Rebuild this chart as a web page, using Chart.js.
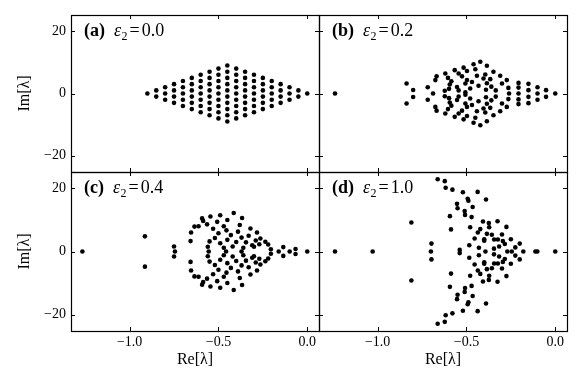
<!DOCTYPE html>
<html>
<head>
<meta charset="utf-8">
<script src="https://cdn.jsdelivr.net/npm/chart.js@4.4.1/dist/chart.umd.min.js"></script>
<style>
  html, body { margin: 0; padding: 0; background: #fff; }
  #wrap { position: relative; width: 581px; height: 388px; }
  #wrap canvas { position: absolute; left: 0; top: 0; }
</style>
</head>
<body>
<div id="wrap">
  <canvas id="panelA" width="581" height="388"></canvas>
  <canvas id="panelB" width="581" height="388"></canvas>
  <canvas id="panelC" width="581" height="388"></canvas>
  <canvas id="panelD" width="581" height="388"></canvas>
</div>
<script>
// ticks shared by the four panels
const reTicks = [-1.0, -0.5, 0.0];
const imTicks = [-20, 0, 20];
const panelTags = ['(a)', '(b)', '(c)', '(d)'];
const epsValues = ['0.0', '0.2', '0.4', '1.0'];

// (a) eps2 = 0 : lattice, one column of Im values per Re value
const latticeRe = [-0.90, -0.85, -0.80, -0.75, -0.70, -0.65, -0.60, -0.55, -0.50, -0.45,
                   -0.40, -0.35, -0.30, -0.25, -0.20, -0.15, -0.10, -0.05, 0.00];
const latticeIm = [
    [0],
    [-1, 1],
    [-2, 0, 2],
    [-3, -1, 1, 3],
    [-4, -2, 0, 2, 4],
    [-5, -3, -1, 1, 3, 5],
    [-6, -4, -2, 0, 2, 4, 6],
    [-7, -5, -3, -1, 1, 3, 5, 7],
    [-8, -6, -4, -2, 0, 2, 4, 6, 8],
    [-9, -7, -5, -3, -1, 1, 3, 5, 7, 9],
    [-8, -6, -4, -2, 0, 2, 4, 6, 8],
    [-7, -5, -3, -1, 1, 3, 5, 7],
    [-6, -4, -2, 0, 2, 4, 6],
    [-5, -3, -1, 1, 3, 5],
    [-4, -2, 0, 2, 4],
    [-3, -1, 1, 3],
    [-2, 0, 2],
    [-1, 1],
    [0]
];

// (b) eps2 = 0.2  [Re, Im]
const eigB = [
    [-1.24, 0], [-0.688, 0], [-0.26, 0], [-0.207, 0], [-0.10, 0], [0, 0],
    [-0.837, 3.2], [-0.837, -3.2], [-0.80, 1.1], [-0.80, -1.1], [-0.718, 2.0], [-0.718, -2.0],
    [-0.675, 4.3], [-0.675, -4.3], [-0.668, 5.5], [-0.668, -5.5], [-0.619, 6.4], [-0.619, -6.4],
    [-0.604, 5.0], [-0.604, -5.0], [-0.594, 2.9], [-0.594, -2.9], [-0.598, 1.5], [-0.598, -1.5],
    [-0.622, 0.9], [-0.622, -0.9], [-0.566, 7.5], [-0.566, -7.5], [-0.544, 6.4], [-0.544, -6.4],
    [-0.553, 2.1], [-0.553, -2.1], [-0.544, 1.0], [-0.544, -1.0], [-0.516, 8.3], [-0.516, -8.3],
    [-0.497, 7.2], [-0.497, -7.2], [-0.497, 4.3], [-0.497, -4.3], [-0.506, 3.2], [-0.506, -3.2],
    [-0.469, 3.7], [-0.469, -3.7], [-0.479, 1.6], [-0.479, -1.6], [-0.506, 0.4], [-0.506, -0.4],
    [-0.46, 9.4], [-0.46, -9.4], [-0.45, 7.8], [-0.45, -7.8], [-0.422, 10.2], [-0.422, -10.2],
    [-0.385, 8.9], [-0.385, -8.9], [-0.441, 5.7], [-0.441, -5.7], [-0.404, 4.8], [-0.404, -4.8],
    [-0.394, 6.1], [-0.394, -6.1], [-0.432, 2.5], [-0.432, -2.5], [-0.348, 7.0], [-0.348, -7.0],
    [-0.366, 4.6], [-0.366, -4.6], [-0.31, 5.7], [-0.31, -5.7], [-0.36, 2.2], [-0.36, -2.2],
    [-0.30, 3.2], [-0.30, -3.2], [-0.273, 4.3], [-0.273, -4.3], [-0.264, 1.8], [-0.264, -1.8],
    [-0.39, 1.2], [-0.39, -1.2], [-0.335, 1.0], [-0.335, -1.0], [-0.525, 5.5], [-0.525, -5.5],
    [-0.385, 3.3], [-0.385, -3.3], [-0.585, 3.9], [-0.585, -3.9], [-0.207, 3.4], [-0.207, -3.4],
    [-0.207, 1.9], [-0.207, -1.9], [-0.151, 3.1], [-0.151, -3.1], [-0.151, 1.07], [-0.151, -1.07],
    [-0.10, 2.0], [-0.10, -2.0], [-0.052, 1.07], [-0.052, -1.07]
];

// (c) eps2 = 0.4
const eigC = [
    [-1.266, 0], [-0.745, 0], [-0.555, 0], [-0.457, 0], [-0.37, 0], [-0.161, 0], [-0.099, 0], [0, 0],
    [-0.914, 4.8], [-0.914, -4.8], [-0.75, 1.6], [-0.75, -1.6],
    [-0.657, 3.3], [-0.657, -3.3], [-0.654, 6.0], [-0.654, -6.0], [-0.635, 7.9], [-0.635, -7.9],
    [-0.612, 8.0], [-0.612, -8.0], [-0.592, 10.5], [-0.592, -10.5], [-0.586, 9.7], [-0.586, -9.7],
    [-0.564, 8.6], [-0.564, -8.6], [-0.545, 11.1], [-0.545, -11.1], [-0.507, 9.4], [-0.507, -9.4],
    [-0.49, 11.5], [-0.49, -11.5], [-0.45, 10.0], [-0.45, -10.0], [-0.414, 12.2], [-0.414, -12.2],
    [-0.367, 10.6], [-0.367, -10.6], [-0.32, 7.3], [-0.32, -7.3], [-0.283, 6.0], [-0.283, -6.0],
    [-0.264, 4.1], [-0.264, -4.1], [-0.236, 3.1], [-0.236, -3.1], [-0.22, 2.2], [-0.22, -2.2],
    [-0.205, 0.7], [-0.205, -0.7], [-0.135, 1.4], [-0.135, -1.4], [-0.066, 0.8], [-0.066, -0.8],
    [-0.56, 1.5], [-0.56, -1.5], [-0.55, 3.2], [-0.55, -3.2], [-0.52, 4.3], [-0.52, -4.3],
    [-0.50, 5.8], [-0.50, -5.8], [-0.49, 2.6], [-0.49, -2.6], [-0.47, 1.2], [-0.47, -1.2],
    [-0.455, 6.7], [-0.455, -6.7], [-0.45, 3.7], [-0.45, -3.7], [-0.43, 5.2], [-0.43, -5.2],
    [-0.42, 1.6], [-0.42, -1.6], [-0.40, 3.0], [-0.40, -3.0], [-0.39, 6.3], [-0.39, -6.3],
    [-0.37, 4.4], [-0.37, -4.4], [-0.36, 1.2], [-0.36, -1.2], [-0.345, 2.9], [-0.345, -2.9],
    [-0.33, 5.0], [-0.33, -5.0], [-0.31, 2.0], [-0.31, -2.0], [-0.29, 3.5], [-0.29, -3.5],
    [-0.47, 8.0], [-0.47, -8.0], [-0.38, 8.4], [-0.38, -8.4], [-0.27, 2.3], [-0.27, -2.3],
    [-0.53, 7.2], [-0.53, -7.2], [-0.30, 1.5], [-0.30, -1.5]
];

// (d) eps2 = 1.0
const eigD = [
    [-1.24, 0], [-1.028, 0], [-0.70, 0], [-0.393, 0], [-0.27, 0], [-0.245, 0], [-0.18, 0],
    [-0.112, 0], [-0.101, 0], [0, 0],
    [-0.81, 9.2], [-0.81, -9.2], [-0.697, 2.5], [-0.697, -2.5],
    [-0.662, 22.9], [-0.662, -22.9], [-0.622, 22.3], [-0.622, -22.3], [-0.617, 20.2], [-0.617, -20.2],
    [-0.579, 19.6], [-0.579, -19.6], [-0.52, 18.8], [-0.52, -18.8], [-0.437, 18.9], [-0.437, -18.9],
    [-0.493, 16.7], [-0.493, -16.7], [-0.489, 16.1], [-0.489, -16.1], [-0.39, 16.5], [-0.39, -16.5],
    [-0.553, 15.1], [-0.553, -15.1], [-0.55, 13.7], [-0.55, -13.7], [-0.51, 12.8], [-0.51, -12.8],
    [-0.508, 11.6], [-0.508, -11.6], [-0.465, 14.1], [-0.465, -14.1], [-0.471, 10.9], [-0.471, -10.9],
    [-0.593, 11.2], [-0.593, -11.2], [-0.587, 7.0], [-0.587, -7.0], [-0.479, 7.7], [-0.479, -7.7],
    [-0.407, 9.5], [-0.407, -9.5], [-0.374, 9.0], [-0.374, -9.0], [-0.372, 7.7], [-0.372, -7.7],
    [-0.325, 9.6], [-0.325, -9.6], [-0.275, 7.8], [-0.275, -7.8], [-0.422, 7.1], [-0.422, -7.1],
    [-0.436, 6.0], [-0.436, -6.0], [-0.40, 3.9], [-0.40, -3.9], [-0.40, 3.4], [-0.40, -3.4],
    [-0.385, 5.6], [-0.385, -5.6], [-0.357, 5.3], [-0.357, -5.3], [-0.344, 3.8], [-0.344, -3.8],
    [-0.323, 3.8], [-0.323, -3.8], [-0.295, 3.3], [-0.295, -3.3], [-0.316, 1.6], [-0.316, -1.6],
    [-0.284, 2.4], [-0.284, -2.4], [-0.25, 3.9], [-0.25, -3.9], [-0.20, 2.5], [-0.20, -2.5],
    [-0.454, 4.1], [-0.454, -4.1], [-0.484, 2.0], [-0.484, -2.0], [-0.538, 0.5], [-0.538, -0.5],
    [-0.43, 1.2], [-0.43, -1.2], [-0.345, 0.9], [-0.345, -0.9], [-0.225, 1.3], [-0.225, -1.3],
    [-0.30, 5.4], [-0.30, -5.4]
];

// flatten the lattice columns into [Re, Im] pairs
const eigA = [];
latticeRe.forEach(function (re, i) {
    latticeIm[i].forEach(function (im) { eigA.push([re, im]); });
});

// page geometry (pixels): frame edges of the 2x2 grid
const W = 581, H = 388;
const leftEdge = 71, midX = 319, rightEdge = 567;
const topEdge = 15, midY = 172, bottomEdge = 331;
const yAxisW = 71;   // room for Im ticks + title
const xAxisH = 38;   // room for Re ticks + title
const tickLen = 4;

const serif = 'Liberation Serif';
Chart.defaults.font.family = serif;
Chart.defaults.color = '#000';

function minus(s) { return s.replace('-', '\u2212'); }

// frame, inward ticks on all sides, and the (x) eps2 = ... tag
const framePlugin = {
    id: 'framePlugin',
    afterDraw(chart, args, opts) {
        const ctx = chart.ctx;
        const a = chart.chartArea;
        const xs = chart.scales.x, ys = chart.scales.y;
        ctx.save();
        ctx.strokeStyle = '#000';
        ctx.lineWidth = 1;
        ctx.beginPath();
        reTicks.forEach(function (v) {
            const px = Math.round(xs.getPixelForValue(v)) + 0.5;
            ctx.moveTo(px, a.bottom); ctx.lineTo(px, a.bottom - tickLen);
            ctx.moveTo(px, a.top); ctx.lineTo(px, a.top + tickLen);
        });
        imTicks.forEach(function (v) {
            const py = Math.round(ys.getPixelForValue(v)) + 0.5;
            ctx.moveTo(a.left, py); ctx.lineTo(a.left + tickLen, py);
            ctx.moveTo(a.right, py); ctx.lineTo(a.right - tickLen, py);
        });
        ctx.stroke();
        ctx.lineWidth = 1.2;
        ctx.strokeRect(a.left + 0.5, a.top + 0.5, a.right - a.left, a.bottom - a.top);

        // panel tag
        ctx.fillStyle = '#000';
        ctx.textBaseline = 'alphabetic';
        ctx.textAlign = 'left';
        let tx = a.left + 13;
        const ty = a.top + 21;
        ctx.font = "bold 18px '" + serif + "'";
        ctx.fillText(opts.tag, tx, ty);
        tx += ctx.measureText(opts.tag).width + 9;
        ctx.font = "italic 18px '" + serif + "'";
        ctx.fillText('\u03b5', tx, ty);
        tx += ctx.measureText('\u03b5').width + 0.5;
        ctx.font = "12px '" + serif + "'";
        ctx.fillText('2', tx, ty + 4);
        tx += ctx.measureText('2').width + 2;
        ctx.font = "18px '" + serif + "'";
        ctx.fillText('=', tx, ty);
        tx += ctx.measureText('=').width + 2;
        ctx.fillText(opts.eps, tx, ty);
        ctx.restore();
    }
};

function makePanel(canvasId, idx, points, frame, showRe, showIm) {
    const padLeft = showIm ? frame.left - yAxisW : frame.left;
    const padBottom = showRe ? H - frame.bottom - xAxisH : H - frame.bottom;
    return new Chart(document.getElementById(canvasId), {
        type: 'scatter',
        data: {
            datasets: [{
                data: points.map(function (p) { return {x: p[0], y: p[1]}; }),
                pointRadius: 2.3,
                pointBackgroundColor: '#000',
                pointBorderWidth: 0,
                showLine: false
            }]
        },
        options: {
            responsive: false,
            animation: false,
            events: [],
            layout: { padding: { left: padLeft, right: W - frame.right, top: frame.top, bottom: padBottom } },
            plugins: {
                legend: { display: false },
                tooltip: { enabled: false },
                framePlugin: { tag: panelTags[idx], eps: epsValues[idx] }
            },
            scales: {
                x: {
                    type: 'linear', position: 'bottom', min: -1.33, max: 0.066,
                    afterBuildTicks: function (s) { s.ticks = reTicks.map(function (v) { return {value: v}; }); },
                    afterFit: function (s) { s.height = showRe ? xAxisH : 0; },
                    grid: { display: false, drawTicks: false },
                    border: { display: false },
                    ticks: { display: showRe, padding: 3, font: { size: 14 },
                             callback: function (v) { return minus(v.toFixed(1)); } },
                    title: { display: showRe, text: 'Re[\u03bb]', font: { size: 16 }, padding: { top: 0, bottom: 0 } }
                },
                y: {
                    type: 'linear', position: 'left', min: -25.2, max: 25.2,
                    afterBuildTicks: function (s) { s.ticks = imTicks.map(function (v) { return {value: v}; }); },
                    afterFit: function (s) { s.width = showIm ? yAxisW : 0; },
                    grid: { display: false, drawTicks: false },
                    border: { display: false },
                    ticks: { display: showIm, padding: 5, font: { size: 14 },
                             callback: function (v) { return minus(String(v)); } },
                    title: { display: showIm, text: 'Im[\u03bb]', font: { size: 16 }, padding: { top: 15, bottom: 0 } }
                }
            }
        },
        plugins: [framePlugin]
    });
}

makePanel('panelA', 0, eigA, {left: leftEdge, right: midX, top: topEdge, bottom: midY}, false, true);
makePanel('panelB', 1, eigB, {left: midX, right: rightEdge, top: topEdge, bottom: midY}, false, false);
makePanel('panelC', 2, eigC, {left: leftEdge, right: midX, top: midY, bottom: bottomEdge}, true, true);
makePanel('panelD', 3, eigD, {left: midX, right: rightEdge, top: midY, bottom: bottomEdge}, true, false);
</script>
</body>
</html>
